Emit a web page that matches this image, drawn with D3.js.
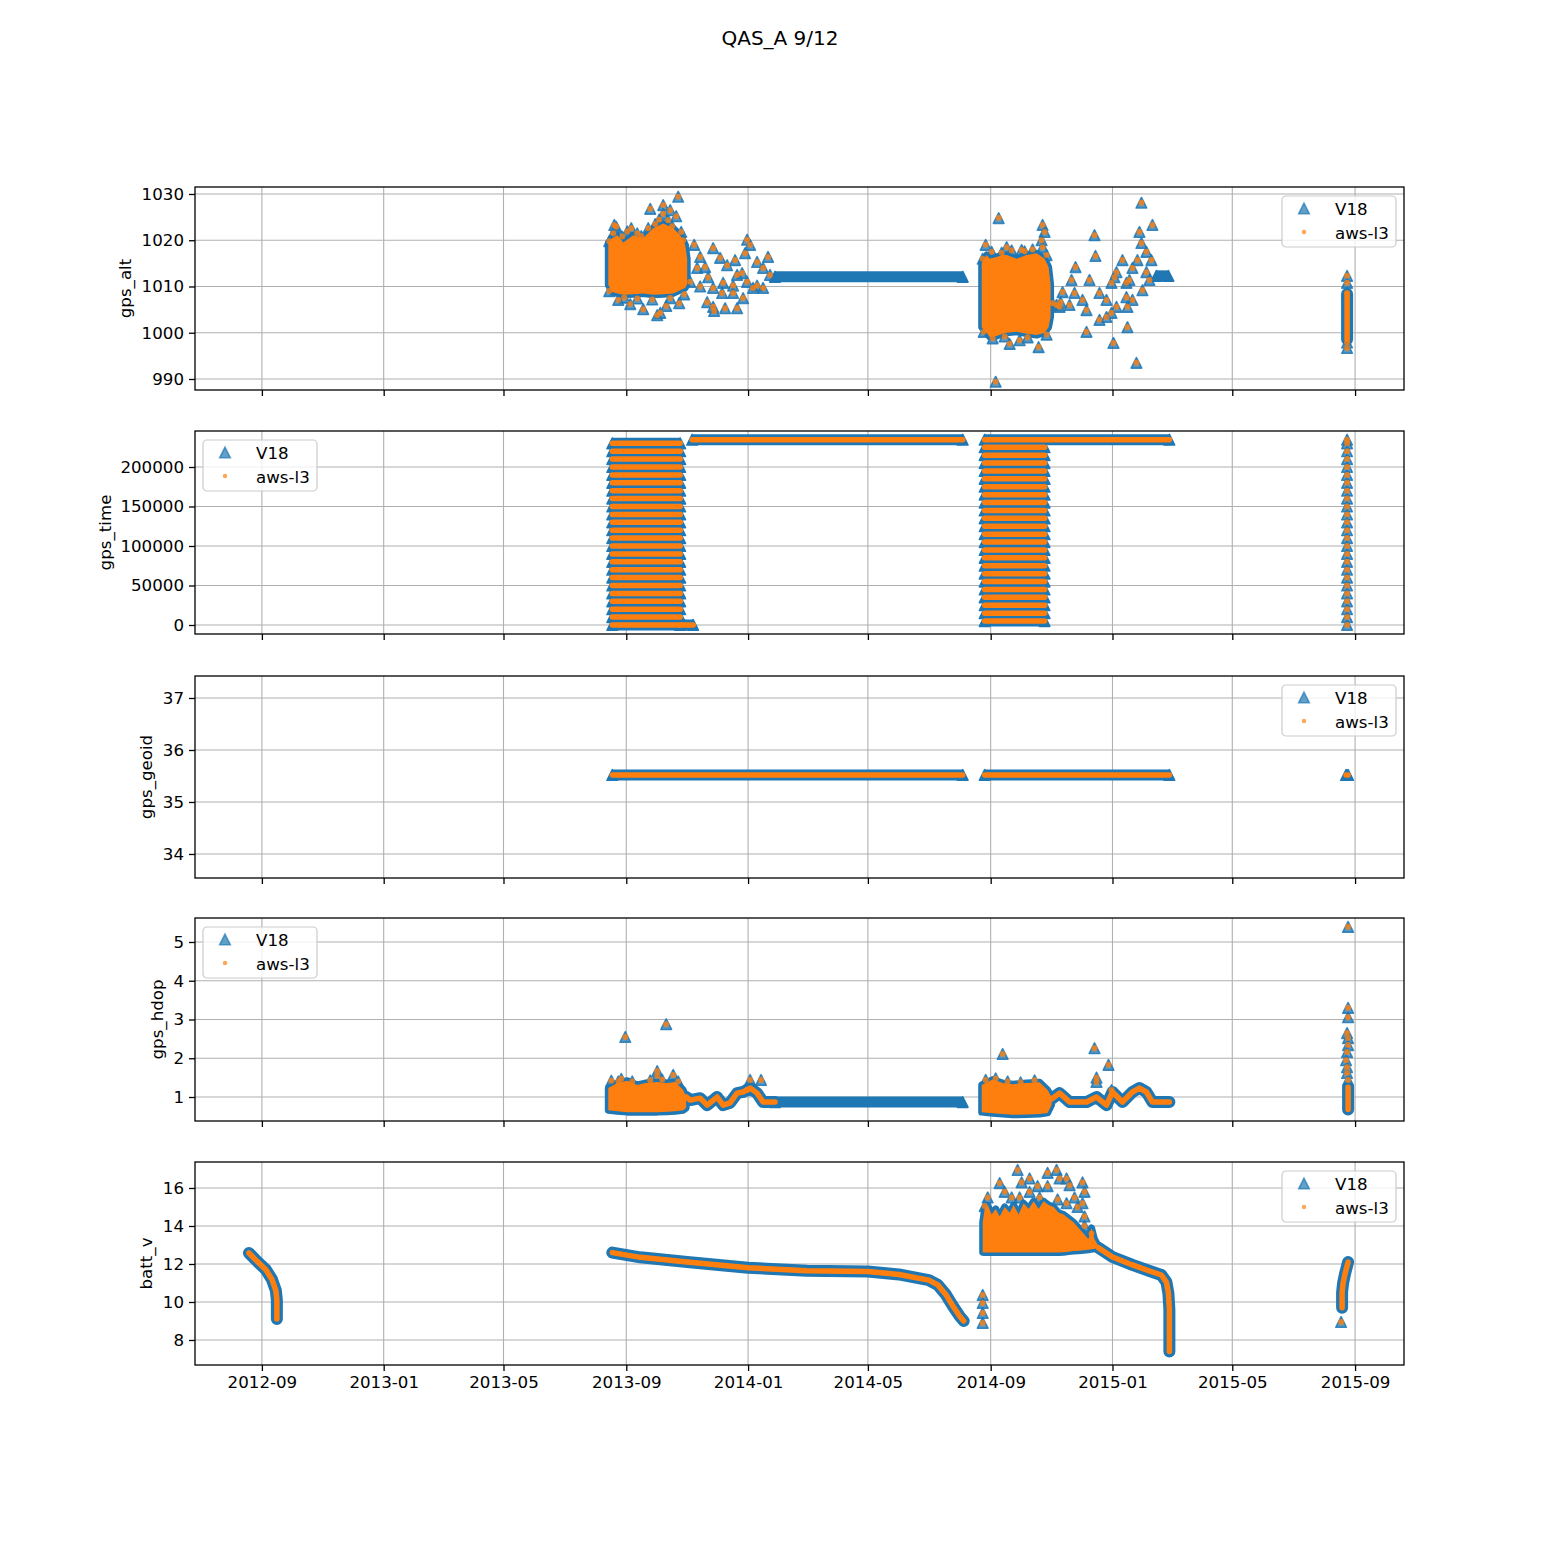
<!DOCTYPE html>
<html><head><meta charset="utf-8">
<script src="https://cdn.jsdelivr.net/npm/d3@7"></script>
<style>body{margin:0;background:#fff}</style>
</head><body>
<svg id="c" width="1560" height="1560"></svg>
<script>
// ---------------- DATA ----------------
const title = "QAS_A 9/12";
const seriesNames = ["V18", "aws-l3"];
const xDomain = ["2012-06-26", "2015-10-20"];
const xTickDates = ["2012-09-01","2013-01-01","2013-05-01","2013-09-01","2014-01-01","2014-05-01","2014-09-01","2015-01-01","2015-05-01","2015-09-01"];
const xTickLabels = ["2012-09","2013-01","2013-05","2013-09","2014-01","2014-05","2014-09","2015-01","2015-05","2015-09"];

// gps_alt
const altTicks = [990, 1000, 1010, 1020, 1030];
const altCloudA = [["2013-08-14",1010.3,1019.4],["2013-08-18",1008.8,1020.5],["2013-08-23",1008.5,1021.1],["2013-08-29",1008.2,1019.5],["2013-09-08",1008.3,1021.1],["2013-09-18",1008.5,1020.5],["2013-09-28",1008.2,1022.6],["2013-10-08",1008.3,1023.6],["2013-10-18",1008.5,1022.6],["2013-10-25",1009.2,1021.1],["2013-10-30",1009.7,1019.0],["2013-11-01",1010.5,1016.0]];
const altCloudB = [["2014-08-23",1001.2,1015.1],["2014-08-28",1000.0,1016.8],["2014-08-31",999.1,1016.0],["2014-09-07",999.3,1016.4],["2014-09-13",999.8,1016.8],["2014-09-17",1000.0,1016.8],["2014-09-27",1000.2,1016.0],["2014-10-07",999.8,1016.8],["2014-10-17",999.5,1017.2],["2014-10-25",1000.0,1016.0],["2014-10-29",1001.2,1014.2],["2014-10-31",1003.5,1010.5]];
const altBandsV18 = [["2014-01-28","2014-08-04",1012.1],["2015-02-14","2015-02-26",1012.3]];
const altCurves = [[["2015-08-24",998.6],["2015-08-24",1008.4]]];
const altPoints = [
 ["2013-08-20",1023.3],["2013-08-22",1022.9],["2013-09-06",1022.6],["2013-09-23",1022.6],["2013-09-25",1026.8],["2013-10-08",1027.6],["2013-10-08",1025.7],["2013-10-15",1026.5],["2013-10-21",1025.2],["2013-10-23",1029.4],["2013-10-26",1021.8],
 ["2013-08-15",1019.8],["2013-08-19",1021.5],["2013-08-28",1020.8],["2013-09-02",1021.9],["2013-09-12",1021.5],["2013-09-16",1020.9],["2013-09-30",1023.5],["2013-10-04",1024.5],["2013-10-13",1024.3],["2013-10-17",1023.0],["2013-10-28",1020.0],
 ["2013-08-15",1009.0],["2013-08-30",1007.6],["2013-09-12",1007.4],["2013-09-27",1007.2],["2013-10-15",1007.5],["2013-10-29",1008.3],
 ["2013-08-24",1007.1],["2013-09-05",1006.2],["2013-09-18",1005.1],["2013-10-02",1003.8],["2013-10-05",1004.3],["2013-10-11",1005.8],["2013-10-24",1006.4],
 ["2013-11-08",1019.0],["2013-11-27",1018.3],["2013-12-04",1016.2],["2013-11-14",1016.4],["2013-11-19",1014.2],["2013-11-11",1014.0],["2013-12-11",1014.6],["2013-12-19",1015.7],["2013-12-31",1020.1],["2014-01-03",1019.0],["2013-12-29",1017.2],["2014-01-10",1015.3],["2014-01-21",1016.4],["2013-12-26",1012.9],["2013-12-21",1012.5],["2014-01-16",1014.0],["2014-01-23",1012.5],["2013-11-22",1012.0],["2013-11-04",1011.0],["2013-11-14",1010.0],["2013-11-27",1009.7],["2013-12-07",1010.8],["2013-12-17",1010.2],["2013-12-31",1011.0],["2014-01-10",1010.2],["2014-01-16",1009.7],["2013-11-21",1006.6],["2013-11-27",1005.6],["2013-11-28",1004.7],["2013-12-09",1005.3],["2013-12-21",1005.3],["2013-12-27",1007.5],["2013-12-17",1008.6],["2013-12-06",1008.6],["2014-01-06",1009.7],
 ["2014-09-09",1024.8],["2014-10-23",1023.3],["2014-10-25",1021.8],["2014-10-22",1020.0],["2014-10-23",1018.5],["2014-08-27",1019.0],["2014-09-17",1018.5],["2014-10-02",1017.9],["2014-09-20",997.6],["2014-09-30",998.4],["2014-10-19",996.9],["2014-09-06",989.4],
 ["2014-08-24",1016.0],["2014-09-02",1017.5],["2014-09-12",1017.3],["2014-09-22",1017.8],["2014-10-05",1017.6],["2014-10-13",1018.0],["2014-10-27",1016.8],
 ["2014-08-25",1000.2],["2014-09-03",998.8],["2014-09-15",999.2],["2014-10-08",999.0],["2014-10-27",999.6],
 ["2014-11-02",1006.4],["2014-11-06",1006.0],["2014-11-10",1006.6],
 ["2014-12-14",1021.1],["2014-12-15",1016.6],["2014-11-25",1014.2],["2014-11-21",1011.4],["2014-12-09",1011.4],["2014-11-12",1008.8],["2014-11-24",1008.6],["2014-11-09",1005.6],["2014-11-19",1006.0],["2014-12-02",1007.1],["2014-12-06",1004.9],["2014-12-19",1008.6],["2014-12-26",1007.1],["2014-12-31",1010.8],["2015-01-11",1015.7],["2015-01-05",1013.1],["2015-01-03",1012.0],["2015-01-18",1011.4],["2015-01-28",1021.8],["2015-01-30",1028.1],["2015-02-10",1023.3],["2015-01-30",1019.4],["2015-02-04",1017.5],["2015-02-09",1015.7],["2015-01-26",1015.7],["2015-01-21",1014.0],["2015-01-15",1010.8],["2015-01-15",1007.7],["2015-01-21",1007.1],["2015-01-16",1005.6],["2014-12-31",1004.3],["2014-12-26",1003.4],["2014-12-19",1002.8],["2014-12-06",1000.2],["2015-01-02",997.8],["2015-01-16",1001.2],["2015-01-25",993.5],["2015-02-04",1013.1],["2015-02-07",1011.4],["2015-01-31",1009.2],["2015-01-05",1005.6],
 ["2015-08-24",1012.3],["2015-08-24",1010.8],["2015-08-24",1008.6],["2015-08-24",996.7],["2015-08-24",997.9]
];

// gps_time
const timeTicks = [0, 50000, 100000, 150000, 200000];
const timeLevelsA = [0,10000,20000,30000,40000,50000,60000,70000,80000,90000,100000,110000,120000,130000,140000,150000,160000,170000,180000,190000,200000,210000,220000,230000];
const timeLevelsB = [5000,15000,25000,35000,45000,55000,65000,75000,85000,95000,105000,115000,125000,135000,145000,155000,165000,175000,185000,195000,205000,215000,225000];
const timeTopLevel = 234500;
const timeSpans = [["2013-08-18","2013-10-25"],["2013-10-25","2013-11-07"],["2013-11-06","2014-08-04"],["2014-08-26","2014-10-25"],["2014-08-26","2015-02-27"]];
const timeFinalDate = "2015-08-24";

// gps_geoid
const geoidTicks = [34, 35, 36, 37];
const geoidBands = [["2013-08-18","2014-08-04",35.52],["2014-08-26","2015-02-27",35.52],["2015-08-23","2015-08-25",35.52]];

// gps_hdop
const hdopTicks = [1, 2, 3, 4, 5];
const hdopCloudA = [["2013-08-14",0.66,1.23],["2013-08-23",0.63,1.36],["2013-09-02",0.61,1.42],["2013-09-12",0.61,1.31],["2013-09-20",0.61,1.36],["2013-10-02",0.61,1.39],["2013-10-12",0.62,1.36],["2013-10-20",0.63,1.39],["2013-10-28",0.66,1.18],["2013-10-31",0.72,1.0]];
const hdopCloudB = [["2014-08-23",0.61,1.31],["2014-09-03",0.58,1.45],["2014-09-13",0.56,1.36],["2014-09-23",0.54,1.33],["2014-10-07",0.55,1.36],["2014-10-20",0.56,1.38],["2014-10-28",0.59,1.18],["2014-11-01",0.8,1.0]];
const hdopBandsV18 = [["2014-01-28","2014-08-04",0.87]];
const hdopCurves = [
 [["2013-10-31",1.0],["2013-11-04",0.92],["2013-11-14",0.97],["2013-11-21",0.79],["2013-12-01",1.0],["2013-12-07",0.79],["2013-12-14",0.85],["2013-12-21",1.1],["2013-12-27",1.13],["2014-01-03",1.23],["2014-01-10",1.1],["2014-01-16",0.87],["2014-01-28",0.87]],
 [["2014-11-01",0.95],["2014-11-09",1.1],["2014-11-19",0.87],["2014-12-06",0.87],["2014-12-16",1.0],["2014-12-26",0.79],["2015-01-01",1.13],["2015-01-11",0.87],["2015-01-21",1.13],["2015-01-28",1.23],["2015-02-04",1.13],["2015-02-10",0.87],["2015-02-27",0.87]],
 [["2015-08-25",0.68],["2015-08-25",1.25]]
];
const hdopPoints = [
 ["2013-08-31",2.55],["2013-10-11",2.88],["2013-10-02",1.67],["2013-10-02",1.55],["2013-10-18",1.57],["2013-08-24",1.40],["2014-01-03",1.44],["2014-01-14",1.44],["2013-12-31",1.18],
 ["2013-08-17",1.42],["2013-08-27",1.47],["2013-09-07",1.40],["2013-09-25",1.43],["2013-10-07",1.45],["2013-10-23",1.40],
 ["2014-08-27",1.44],["2014-09-06",1.48],["2014-09-18",1.40],["2014-10-01",1.38],["2014-10-15",1.43],
 ["2014-09-13",2.11],["2014-12-14",2.26],["2014-12-28",1.83],["2014-12-16",1.39],["2014-12-31",1.18],["2014-12-16",1.5],
 ["2015-08-25",5.39],["2015-08-25",3.30],["2015-08-25",3.06],["2015-08-24",2.65],["2015-08-25",2.52],["2015-08-25",2.34],["2015-08-24",2.16],["2015-08-23",1.95],["2015-08-24",1.77],["2015-08-24",1.62],["2015-08-25",1.44]
];

// batt_v
const battTicks = [8, 10, 12, 14, 16];
const battCloud = [["2014-08-24",12.62,14.2],["2014-08-26",12.6,14.9],["2014-08-29",12.6,15.1],["2014-09-02",12.6,14.6],["2014-09-06",12.6,14.9],["2014-09-10",12.6,14.5],["2014-09-15",12.6,15.0],["2014-09-20",12.6,14.7],["2014-09-24",12.6,15.1],["2014-09-29",12.6,14.6],["2014-10-04",12.6,15.2],["2014-10-09",12.6,14.9],["2014-10-14",12.6,15.3],["2014-10-19",12.6,14.9],["2014-10-24",12.6,15.3],["2014-10-29",12.6,15.1],["2014-11-03",12.6,15.0],["2014-11-08",12.6,14.7],["2014-11-13",12.62,14.6],["2014-11-18",12.65,14.4],["2014-11-23",12.68,14.2],["2014-11-28",12.7,13.9],["2014-12-03",12.72,13.6],["2014-12-08",12.75,13.3],["2014-12-11",12.78,13.9],["2014-12-14",12.8,13.3],["2014-12-18",12.85,12.95]];
const battCurves = [
 [["2012-08-19",12.58],["2012-08-28",12.1],["2012-09-05",11.7],["2012-09-11",11.2],["2012-09-15",10.6],["2012-09-16",10.1],["2012-09-16",9.1]],
 [["2013-08-18",12.6],["2013-09-15",12.35],["2013-11-01",12.1],["2014-01-01",11.8],["2014-03-01",11.65],["2014-05-01",11.6],["2014-06-01",11.45],["2014-07-01",11.15],["2014-07-10",10.9],["2014-07-18",10.4],["2014-07-25",9.8],["2014-08-01",9.25],["2014-08-05",9.0]],
 [["2014-12-18",12.85],["2015-01-01",12.37],["2015-01-21",11.95],["2015-02-10",11.58],["2015-02-19",11.42],["2015-02-24",11.05],["2015-02-26",10.47],["2015-02-27",9.6],["2015-02-27",8.37],["2015-02-27",7.4]],
 [["2015-08-19",9.7],["2015-08-19",10.5],["2015-08-20",11.0],["2015-08-22",11.5],["2015-08-25",12.1]]
];
const battPoints = [
 ["2014-09-10",16.26],["2014-09-15",15.8],["2014-09-28",16.95],["2014-10-02",16.3],["2014-10-10",16.5],["2014-09-30",15.5],["2014-09-22",15.5],["2014-10-18",16.1],["2014-10-20",15.5],["2014-10-28",16.8],["2014-11-06",16.95],["2014-11-09",16.5],["2014-11-16",16.5],["2014-11-19",16.15],["2014-12-02",16.3],["2014-12-04",15.8],["2014-12-02",15.2],["2014-12-04",14.5],["2014-10-28",16.1],["2014-08-29",15.5],["2014-08-26",15.05],["2014-10-10",15.8],["2014-11-07",15.4],["2014-11-16",15.2],["2014-11-24",15.5],["2014-11-27",15.0],["2014-12-11",13.6],["2014-12-04",14.0],["2014-12-07",13.2],
 ["2014-08-24",10.37],["2014-08-24",9.95],["2014-08-24",9.42],["2014-08-24",8.9],
 ["2015-08-18",8.95]
];

// ---------------- DRAWING ----------------
const parse = d3.timeParse("%Y-%m-%d");
const X = d3.scaleTime().domain(xDomain.map(parse)).range([195, 1404]);
const svg = d3.select("#c");
const FONT = "'DejaVu Sans', sans-serif";
const BLUE = "#1f77b4", ORANGE = "#ff7f0e";
const TRI = "M0,-5.3L-5.3,5.3L5.3,5.3Z";

svg.append("text").attr("x", 780).attr("y", 45).attr("text-anchor", "middle")
  .attr("font-family", FONT).attr("font-size", 20).text(title);

const bandsOf = (spans, levels) => levels.map(v => [spans[0], spans[1], v]);
const timeBands = [].concat(
  bandsOf(timeSpans[0], timeLevelsA),
  [[timeSpans[1][0], timeSpans[1][1], timeLevelsA[0]]],
  [[timeSpans[2][0], timeSpans[2][1], timeTopLevel]],
  bandsOf(timeSpans[3], timeLevelsB),
  [[timeSpans[4][0], timeSpans[4][1], timeTopLevel]]
);
const timePoints = timeLevelsA.concat([timeTopLevel]).map(v => [timeFinalDate, v]);

const panels = [
  {label: "gps_alt", top: 187, h: 203, domain: [987.62, 1031.51], ticks: altTicks, fmt: d3.format("d"), labelX: 125,
   clouds: [altCloudA, altCloudB], bandsBoth: [], bandsV18: altBandsV18, curves: altCurves, points: altPoints, legend: "right"},
  {label: "gps_time", top: 431, h: 203, domain: [-11392, 245570], ticks: timeTicks, fmt: d3.format("d"), labelX: 105,
   clouds: [], bandsBoth: timeBands, bandsV18: [], curves: [], points: timePoints, legend: "left"},
  {label: "gps_geoid", top: 676, h: 202, domain: [33.538, 37.423], ticks: geoidTicks, fmt: d3.format("d"), labelX: 146,
   clouds: [], bandsBoth: geoidBands, bandsV18: [], curves: [], points: [], legend: "right"},
  {label: "gps_hdop", top: 918, h: 203, domain: [0.381, 5.619], ticks: hdopTicks, fmt: d3.format("d"), labelX: 157,
   clouds: [hdopCloudA, hdopCloudB], bandsBoth: [], bandsV18: hdopBandsV18, curves: hdopCurves, points: hdopPoints, legend: "left"},
  {label: "batt_v", top: 1162, h: 203, domain: [6.684, 17.368], ticks: battTicks, fmt: d3.format("d"), labelX: 146,
   clouds: [battCloud], bandsBoth: [], bandsV18: [], curves: battCurves, points: battPoints, legend: "right"}
];

panels.forEach((p, pi) => {
  const L = 195, R = 1404, T = p.top, B = p.top + p.h;
  const Y = d3.scaleLinear().domain(p.domain).range([B, T]);
  const g = svg.append("g");
  const cid = "clip" + pi;
  svg.append("clipPath").attr("id", cid).append("rect").attr("x", L).attr("y", T).attr("width", R - L).attr("height", B - T);

  // grid
  const grid = g.append("g").attr("stroke", "#b0b0b0").attr("stroke-width", 1.1);
  xTickDates.forEach(d => grid.append("line").attr("x1", X(parse(d))).attr("x2", X(parse(d))).attr("y1", T).attr("y2", B));
  p.ticks.forEach(v => grid.append("line").attr("x1", L).attr("x2", R).attr("y1", Y(v)).attr("y2", Y(v)));

  const dg = g.append("g").attr("clip-path", `url(#${cid})`);
  const area = d3.area().x(d => X(parse(d[0]))).y0(d => Y(d[1])).y1(d => Y(d[2]));
  const line = d3.line().x(d => X(parse(d[0]))).y(d => Y(d[1]));
  const allBands = p.bandsBoth.concat(p.bandsV18);

  // --- V18 layer (blue triangles)
  const bl = dg.append("g");
  p.clouds.forEach(c => bl.append("path").attr("d", area(c)).attr("fill", BLUE)
    .attr("stroke", BLUE).attr("stroke-width", 7).attr("stroke-linejoin", "round"));
  allBands.forEach(b => {
    bl.append("line").attr("x1", X(parse(b[0]))).attr("x2", X(parse(b[1])))
      .attr("y1", Y(b[2])).attr("y2", Y(b[2])).attr("stroke", BLUE).attr("stroke-width", 11);
    [b[0], b[1]].forEach(d => bl.append("path").attr("d", TRI)
      .attr("transform", `translate(${X(parse(d))},${Y(b[2])})`)
      .attr("fill", BLUE).attr("stroke", BLUE).attr("stroke-width", 1.6).attr("stroke-linejoin", "round"));
  });
  p.curves.forEach(c => bl.append("path").attr("d", line(c)).attr("fill", "none").attr("stroke", BLUE)
    .attr("stroke-width", 12).attr("stroke-linecap", "round").attr("stroke-linejoin", "round"));
  bl.selectAll(null).data(p.points).join("path").attr("d", TRI)
    .attr("transform", d => `translate(${X(parse(d[0]))},${Y(d[1])})`)
    .attr("fill", BLUE).attr("fill-opacity", 0.75).attr("stroke", BLUE).attr("stroke-width", 1.6)
    .attr("stroke-opacity", 0.85).attr("stroke-linejoin", "round");

  // --- aws-l3 layer (orange dots)
  const ol = dg.append("g");
  p.clouds.forEach(c => ol.append("path").attr("d", area(c)).attr("fill", ORANGE));
  p.bandsBoth.forEach(b => ol.append("line").attr("x1", X(parse(b[0]))).attr("x2", X(parse(b[1])))
    .attr("y1", Y(b[2])).attr("y2", Y(b[2])).attr("stroke", ORANGE).attr("stroke-width", 5.5).attr("stroke-linecap", "round"));
  p.curves.forEach(c => ol.append("path").attr("d", line(c)).attr("fill", "none").attr("stroke", ORANGE)
    .attr("stroke-width", 5.5).attr("stroke-linecap", "round").attr("stroke-linejoin", "round"));
  ol.selectAll(null).data(p.points).join("circle")
    .attr("cx", d => X(parse(d[0]))).attr("cy", d => Y(d[1])).attr("r", 3)
    .attr("fill", ORANGE).attr("fill-opacity", 0.8);

  // axes
  const ax = d3.axisBottom(X).tickValues(xTickDates.map(parse)).tickSize(6).tickSizeOuter(0).tickPadding(5)
    .tickFormat((d, i) => pi === panels.length - 1 ? xTickLabels[i] : "");
  const gx = g.append("g").attr("transform", `translate(0,${B})`).call(ax);
  const ay = d3.axisLeft(Y).tickValues(p.ticks).tickSize(6).tickSizeOuter(0).tickPadding(5).tickFormat(p.fmt);
  const gy = g.append("g").attr("transform", `translate(${L},0)`).call(ay);
  [gx, gy].forEach(a => {
    a.select(".domain").remove();
    a.selectAll(".tick line").attr("stroke", "#000").attr("stroke-width", 1.3);
    a.selectAll(".tick text").attr("font-family", FONT).attr("font-size", 16.67).attr("fill", "#000");
  });

  // spines
  g.append("rect").attr("x", L).attr("y", T).attr("width", R - L).attr("height", B - T)
    .attr("fill", "none").attr("stroke", "#000").attr("stroke-width", 1.3);

  // y label
  g.append("text").attr("transform", `translate(${p.labelX},${(T + B) / 2}) rotate(-90)`)
    .attr("text-anchor", "middle").attr("dy", "0.35em").attr("font-family", FONT).attr("font-size", 16.67).text(p.label);

  // legend
  const lx = p.legend === "right" ? 1282 : 203, ly = T + 9;
  const lg = g.append("g").attr("transform", `translate(${lx},${ly})`);
  lg.append("rect").attr("width", 114).attr("height", 51).attr("rx", 4).attr("fill", "#fff").attr("fill-opacity", 0.8)
    .attr("stroke", "#cccccc").attr("stroke-width", 1.2);
  lg.append("path").attr("d", TRI).attr("transform", "translate(22,12.5)").attr("fill", BLUE).attr("fill-opacity", 0.7)
    .attr("stroke", BLUE).attr("stroke-opacity", 0.7).attr("stroke-width", 1.6);
  lg.append("circle").attr("cx", 22).attr("cy", 36).attr("r", 2.2).attr("fill", ORANGE).attr("fill-opacity", 0.7);
  lg.append("text").attr("x", 53).attr("y", 18.5).attr("font-family", FONT).attr("font-size", 16.67).text(seriesNames[0]);
  lg.append("text").attr("x", 53).attr("y", 42.5).attr("font-family", FONT).attr("font-size", 16.67).text(seriesNames[1]);
});
</script>
</body></html>
